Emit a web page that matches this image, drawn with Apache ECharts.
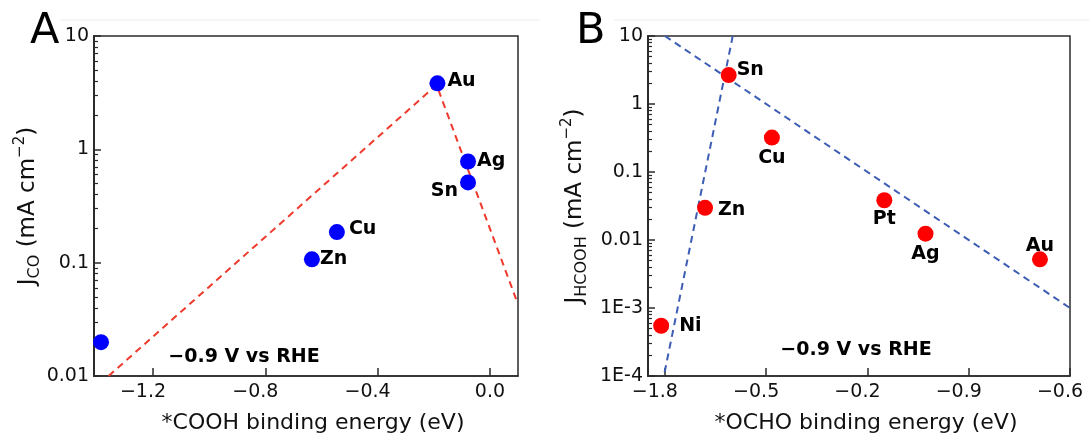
<!DOCTYPE html>
<html>
<head>
<meta charset="utf-8">
<script src="https://cdn.jsdelivr.net/npm/echarts@6/dist/echarts.min.js"></script>
<style>
  html, body { margin: 0; padding: 0; background: #ffffff; }
  #chart { width: 1089px; height: 439px; }
</style>
</head>
<body>
<div id="chart"></div>
<script>
// ---- Panel A: CO partial current density vs *COOH binding energy ----
const coMetals   = ['', 'Zn', 'Cu', 'Au', 'Ag', 'Sn'];
const coBinding  = [-1.385, -0.634, -0.545, -0.187, -0.078, -0.078];   // eV
const coCurrent  = [0.0199, 0.107, 0.186, 3.82, 0.781, 0.511];         // mA cm^-2
const coTrendX   = [-1.358, -0.19, 0.1];
const coTrendY   = [0.01, 3.7, 0.043];
const coTicksX   = [-1.2, -0.8, -0.4, 0.0];
const coTicksY   = [0.01, 0.1, 1, 10];
const coTickYText = ['0.01', '0.1', '1', '10'];

// ---- Panel B: formate partial current density vs *OCHO binding energy ----
const fmMetals   = ['Ni', 'Zn', 'Sn', 'Cu', 'Pt', 'Ag', 'Au'];
const fmBinding  = [-1.811, -1.681, -1.611, -1.483, -1.150, -1.028, -0.689];
const fmCurrent  = [0.000548, 0.0297, 2.66, 0.321, 0.0384, 0.0124, 0.0052];
const fmWeakX    = [-1.8, -0.6];
const fmWeakY    = [10, 0.001];
const fmStrongX  = [-1.599, -1.803];
const fmStrongY  = [10, 0.0001];
const fmTicksX   = [-1.8, -1.5, -1.2, -0.9, -0.6];
const fmTickText = ['\u22121.8', '\u22120.5', '\u22120.2', '\u22120.9', '\u22120.6'];
const fmTicksY   = [0.0001, 0.001, 0.01, 0.1, 1, 10];
const fmTickYText = ['1E-4', '1E-3', '0.01', '0.1', '1', '10'];

// label placement around each marker
const coLabelPlace = {
  Au: { position: 'right', distance: 2, offset: [0, -2] },
  Ag: { position: 'right', distance: 1, offset: [0, 0] },
  Sn: { position: 'left', distance: 2, offset: [0, 9] },
  Cu: { position: 'right', distance: 4, offset: [0, -3] },
  Zn: { position: 'right', distance: 0, offset: [0, 0] }
};
const fmLabelPlace = {
  Ni: { position: 'right', distance: 10, offset: [0, 0] },
  Zn: { position: 'right', distance: 5, offset: [0, 2] },
  Sn: { position: 'right', distance: 0, offset: [0, -5] },
  Cu: { position: 'bottom', distance: 3, offset: [0, 0] },
  Pt: { position: 'bottom', distance: 1, offset: [0, 0] },
  Ag: { position: 'bottom', distance: 3, offset: [0, 0] },
  Au: { position: 'top', distance: 0, offset: [0, 4] }
};

const FONT = 'DejaVu Sans';
const INK = '#000000';
const AXIS = '#2b2b2b';

// tick positions on a decade scale (exponents), used by the tick-only axes
function majorExps(values) { return values.map((v) => Math.log10(v)); }
function minorExps(lo, hi) {
  const out = [];
  for (let e = lo; e < hi; e++) {
    for (let m = 2; m <= 9; m++) out.push(e + Math.log10(m));
  }
  return out;
}
function lookup(values, texts, v, useLog) {
  let best = 0, bd = Infinity;
  values.forEach((t, i) => {
    const d = useLog ? Math.abs(Math.log10(t) - Math.log10(v)) : Math.abs(t - v);
    if (d < bd) { bd = d; best = i; }
  });
  return texts[best];
}
function signedLabel(text) {
  return text.charAt(0) === '\u2212' ? '{neg|' + text + '}' : '{pos|' + text + '}';
}
const tickRich = {
  neg: { fontFamily: FONT, fontSize: 19, color: '#111', padding: [0, 20, 0, 0] },
  pos: { fontFamily: FONT, fontSize: 19, color: '#111' }
};
function yTitle(sub) {
  return '{m|J}{s|' + sub + '}{m| (mA cm}{p|\u22122}{m|)}';
}
const titleRich = {
  m: { fontFamily: FONT, fontSize: 23, color: '#111', lineHeight: 30, verticalAlign: 'middle' },
  s: { fontFamily: FONT, fontSize: 16, color: '#111', lineHeight: 16, verticalAlign: 'bottom' },
  p: { fontFamily: FONT, fontSize: 15, color: '#111', lineHeight: 15, verticalAlign: 'top' }
};

function scatterData(xs, ys, names, place) {
  return xs.map((x, i) => {
    const item = { value: [x, ys[i]], name: names[i] };
    const p = place[names[i]];
    item.label = p ? Object.assign({ show: true }, p) : { show: false };
    return item;
  });
}
function pairs(xs, ys) { return xs.map((x, i) => [x, ys[i]]); }

const labelStyle = { fontFamily: FONT, fontWeight: 'bold', fontSize: 19, color: INK, opacity: 1, formatter: '{b}' };
const dashed = (color) => ({ color: color, width: 2, type: [7, 5], opacity: 1 });

const gridA = { left: 94, top: 36, width: 424, height: 341 };
const gridB = { left: 648, top: 36, width: 422, height: 341 };

function xAxisCfg(gridIndex, min, max, ticks, fmt, name) {
  return {
    type: 'value', gridIndex, min, max,
    name, nameLocation: 'middle', nameGap: 36,
    nameTextStyle: { fontFamily: FONT, fontSize: 22, color: '#111', padding: [0, 0, 0, 14] },
    axisLine: { show: true, onZero: false, lineStyle: { color: AXIS, width: 1.5 } },
    axisTick: { show: true, inside: true, length: 8, customValues: ticks, lineStyle: { color: AXIS, width: 1.5 } },
    axisLabel: { show: true, margin: 7, customValues: ticks, formatter: fmt, rich: tickRich },
    splitLine: { show: false }
  };
}
// data axis: log scale with labels and title, ticks drawn by the tick axes below
function yAxisCfg(gridIndex, min, max, ticks, texts, name, gap) {
  return {
    type: 'log', logBase: 10, gridIndex, min, max, position: 'left',
    name, nameLocation: 'middle', nameGap: gap, nameRotate: 90,
    nameTextStyle: { rich: titleRich },
    axisLine: { show: true, onZero: false, lineStyle: { color: AXIS, width: 1.5 } },
    axisTick: { show: false },
    axisLabel: {
      show: true, margin: 5, customValues: ticks,
      fontFamily: FONT, fontSize: 19, color: '#111',
      formatter: (v) => lookup(ticks, texts, v, true)
    },
    splitLine: { show: false }
  };
}
// tick-only axis in decade exponents, overlaying the log axis
function tickAxisCfg(gridIndex, lo, hi, exps, len, width) {
  return {
    type: 'value', gridIndex, min: lo, max: hi, position: 'left', offset: 0,
    axisLine: { show: true, onZero: false, lineStyle: { color: AXIS, width: 1.5 } },
    axisTick: { show: true, inside: true, length: len, customValues: exps, lineStyle: { color: AXIS, width: width } },
    axisLabel: { show: false },
    splitLine: { show: false }
  };
}

const chart = echarts.init(document.getElementById('chart'), null, { renderer: 'canvas' });

const option = {
  backgroundColor: '#ffffff',
  animation: false,
  grid: [
    Object.assign({ show: true, borderColor: AXIS, borderWidth: 1.5 }, gridA),
    Object.assign({ show: true, borderColor: AXIS, borderWidth: 1.5 }, gridB)
  ],
  xAxis: [
    xAxisCfg(0, -1.41, 0.1, coTicksX,
      (v) => signedLabel(v < -1e-9 ? '\u2212' + Math.abs(v).toFixed(1) : Math.abs(v).toFixed(1)),
      '*COOH binding energy (eV)'),
    xAxisCfg(1, -1.85, -0.6, fmTicksX,
      (v) => signedLabel(lookup(fmTicksX, fmTickText, v, false)),
      '*OCHO binding energy (eV)')
  ],
  yAxis: [
    yAxisCfg(0, 0.01, 10, coTicksY, coTickYText, yTitle('CO'), 48),
    yAxisCfg(1, 0.0001, 10, fmTicksY, fmTickYText, yTitle('HCOOH'), 58),
    tickAxisCfg(0, -2, 1, majorExps(coTicksY), 7, 1.5),
    tickAxisCfg(0, -2, 1, minorExps(-2, 1), 4, 1.2),
    tickAxisCfg(1, -4, 1, majorExps(fmTicksY), 7, 1.5),
    tickAxisCfg(1, -4, 1, minorExps(-4, 1), 4, 1.2)
  ],
  series: [
    {
      type: 'line', xAxisIndex: 0, yAxisIndex: 0, data: pairs(coTrendX, coTrendY),
      symbol: 'none', silent: true, lineStyle: dashed('#ee3a2c'), z: 2
    },
    {
      type: 'scatter', xAxisIndex: 0, yAxisIndex: 0,
      data: scatterData(coBinding, coCurrent, coMetals, coLabelPlace),
      symbol: 'circle', symbolSize: 16, itemStyle: { color: '#0000ff', opacity: 1 },
      label: labelStyle, z: 5
    },
    {
      type: 'line', xAxisIndex: 1, yAxisIndex: 1, data: pairs(fmWeakX, fmWeakY),
      symbol: 'none', silent: true, lineStyle: dashed('#3d5db4'), z: 2
    },
    {
      type: 'line', xAxisIndex: 1, yAxisIndex: 1, data: pairs(fmStrongX, fmStrongY),
      symbol: 'none', silent: true, lineStyle: dashed('#3d5db4'), z: 2
    },
    {
      type: 'scatter', xAxisIndex: 1, yAxisIndex: 1,
      data: scatterData(fmBinding, fmCurrent, fmMetals, fmLabelPlace),
      symbol: 'circle', symbolSize: 16, itemStyle: { color: '#ff0000', opacity: 1 },
      label: labelStyle, z: 5
    }
  ],
  graphic: [
    { type: 'line', shape: { x1: 60, y1: 20, x2: 540, y2: 20 }, style: { stroke: '#ececec', lineWidth: 1 }, silent: true },
    { type: 'line', shape: { x1: 614, y1: 20, x2: 1089, y2: 20 }, style: { stroke: '#ececec', lineWidth: 1 }, silent: true },
    { type: 'text', x: 30, y: 10, style: { text: 'A', font: '43px "DejaVu Sans"', fill: '#000' } },
    { type: 'text', x: 576, y: 10, style: { text: 'B', font: '43px "DejaVu Sans"', fill: '#000' } },
    { type: 'text', x: 244, y: 357, style: { text: '\u22120.9 V vs RHE', font: 'bold 19px "DejaVu Sans"', fill: INK, textAlign: 'center', textVerticalAlign: 'middle', align: 'center', verticalAlign: 'middle' } },
    { type: 'text', x: 856, y: 350, style: { text: '\u22120.9 V vs RHE', font: 'bold 19px "DejaVu Sans"', fill: INK, textAlign: 'center', textVerticalAlign: 'middle', align: 'center', verticalAlign: 'middle' } }
  ]
};

chart.setOption(option);
</script>
</body>
</html>
